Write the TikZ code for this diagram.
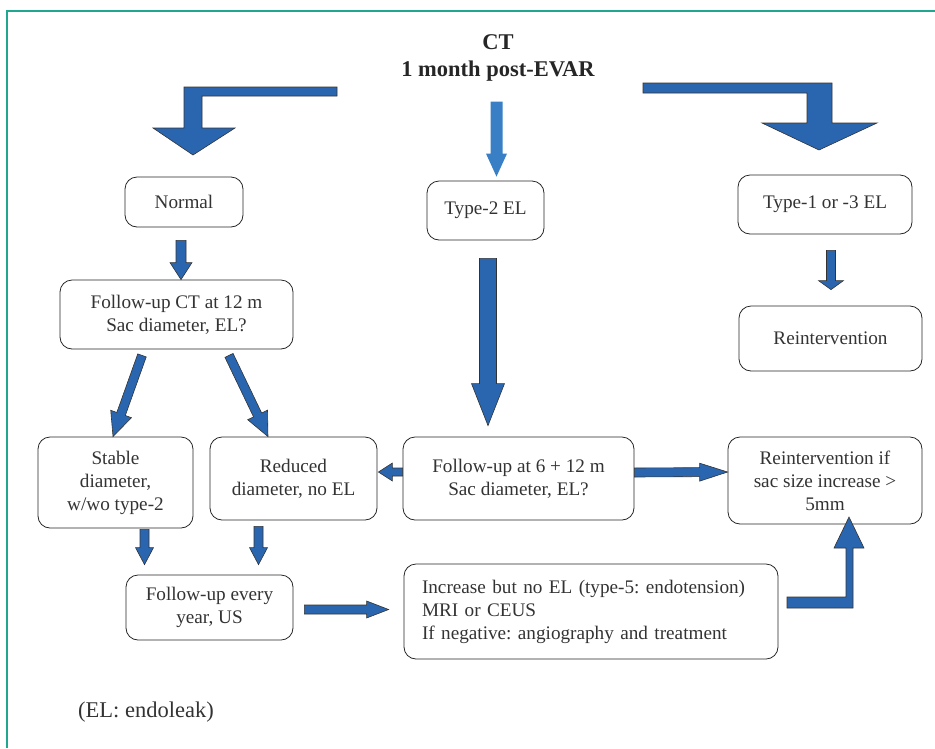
\documentclass[tikz,border=0pt]{standalone}
\usepackage{fontspec}
\setmainfont{Liberation Serif}
\usetikzlibrary{calc}
\frenchspacing

\definecolor{framegreen}{HTML}{1FA88F}
\definecolor{arrowblue}{HTML}{2A66B0}
\definecolor{lightblue}{HTML}{387FC6}
\definecolor{textgray}{HTML}{333333}

\newcommand{\boxfont}{\fontsize{19.2}{23}\selectfont}

% block arrow from #2 to #3: shaft half width #4, head half width #5, head length #6
\newcommand{\blockarrow}[6][]{%
  \draw[barrow,#1] let \p1=#2, \p2=#3,
      \n1={veclen(\x2-\x1,\y2-\y1)}, \n2={atan2(\y2-\y1,\x2-\x1)} in
    [shift={(\p1)}, rotate=\n2]
    (0,#4) -- ({\n1-#6},#4) -- ({\n1-#6},#5) -- (\n1,0)
    -- ({\n1-#6},-#5) -- ({\n1-#6},-#4) -- (0,-#4) -- cycle;}

\tikzset{
  box/.style={draw=black!85, line width=0.8pt, rounded corners=12pt,
    align=center, text=textgray, font=\boxfont},
  barrow/.style={fill=arrowblue, draw=black!80, line width=0.6pt},
}

\begin{document}
\begin{tikzpicture}[x=1pt, y=-1pt]
  \useasboundingbox (0,0) rectangle (935,748);
  \draw[framegreen, line width=2.5pt] (935,11) -- (7,11) -- (7,748);

  \node[font=\bfseries\fontsize{22.5}{27}\selectfont, align=center, text=black!85]
    (title) at (498,58) {CT\\1 month post-EVAR};

  % first row
  \node[box, minimum width=118pt, minimum height=50pt] (normal) at (184,202) {Normal};
  \node[box, minimum width=117pt, minimum height=59pt] (type2) at (485.5,210.5) {Type-2 EL};
  \node[box, minimum width=174pt, minimum height=59pt] (type13) at (825,204.5) {Type-1 or -3 EL};

  % second row
  \node[box, minimum width=233pt, minimum height=69pt] (fu12) at (176.5,314.5)
    {Follow-up CT at 12 m\\Sac diameter, EL?};
  \node[box, minimum width=183pt, minimum height=65pt] (reint) at (830.5,338.5) {Reintervention};

  % third row
  \node[box, minimum width=155pt, minimum height=91pt] (stable) at (115.5,482.5)
    {Stable\\diameter,\\w/wo type-2};
  \node[box, minimum width=167pt, minimum height=83pt] (reduced) at (293.5,478.5)
    {Reduced\\diameter, no EL};
  \node[box, minimum width=231pt, minimum height=83pt] (fu612) at (518.5,478.5)
    {Follow-up at 6 + 12 m\\Sac diameter, EL?};
  \node[box, minimum width=194pt, minimum height=87pt] (reintif) at (825,480.5)
    {Reintervention if\\sac size increase >\\5mm};

  % fourth row
  \node[box, minimum width=167pt, minimum height=65pt] (fuyear) at (209.5,607.5)
    {Follow-up every\\year, US};
  \node[box, align=left, text width=338pt, inner xsep=18pt, minimum height=95pt]
    (increase) at (591,611.5)
    {Increase but no EL (type-5: endotension)\\MRI or CEUS\\If negative: angiography and treatment};

  \node[text=textgray, font=\fontsize{22.5}{27}\selectfont] (note) at (146,712) {(EL: endoleak)};

  % bent arrows
  \draw[barrow] (337,87) -- (184,87) -- (184,128) -- (153,128) -- (193,155)
    -- (235,128) -- (202,128) -- (202,96) -- (337,96) -- cycle;
  \draw[barrow] (643,83) -- (832,83) -- (832,123) -- (877,123) -- (819,150)
    -- (762,123) -- (807,123) -- (807,93) -- (643,93) -- cycle;
  \draw[barrow] (787,597) -- (846,597) -- (846,548) -- (834,548) -- (849,517)
    -- (864,548) -- (853,548) -- (853,608) -- (787,608) -- cycle;

  % straight arrows
  \blockarrow[fill=lightblue, draw=none]{($(type2.north)+(11,-79)$)}{($(type2.north)+(11,-4)$)}{6}{10.5}{23}
  \blockarrow{($(normal.south)+(-3,13)$)}{($(normal.south |- fu12.north)+(-3,0)$)}{5}{11}{17}
  \blockarrow{($(type13.south)+(6,16)$)}{($(reint.north)+(0.5,-16)$)}{4.5}{12.5}{9}
  \blockarrow{($(type2.south)+(2.5,18)$)}{($(fu612.north)+(-30.5,-11)$)}{8.5}{16.5}{42}
  \blockarrow{($(fu12.south)+(-34.5,6)$)}{($(stable.north)+(-2.5,0)$)}{4.5}{11}{24}
  \blockarrow{($(fu12.south)+(52.5,6)$)}{($(reduced.north)+(-25.5,0)$)}{4.5}{11}{24}
  \blockarrow{($(fu612.west)+(0,-6.5)$)}{($(reduced.east)+(1,-6.5)$)}{4}{9}{14}
  \blockarrow{($(fu612.east)+(0,-6)$)}{($(reintif.west)+(0,-8.5)$)}{4.5}{9}{28}
  \blockarrow{($(stable.south)+(29,1)$)}{($(fuyear.north)+(-65,-10)$)}{4.5}{9}{17}
  \blockarrow{($(reduced.south)+(-35,6)$)}{($(fuyear.north)+(49,-10)$)}{4.5}{9}{17}
  \blockarrow{($(fuyear.east)+(11,2)$)}{($(increase.west)+(-15,-2)$)}{4.5}{8.5}{22}
\end{tikzpicture}
\end{document}
